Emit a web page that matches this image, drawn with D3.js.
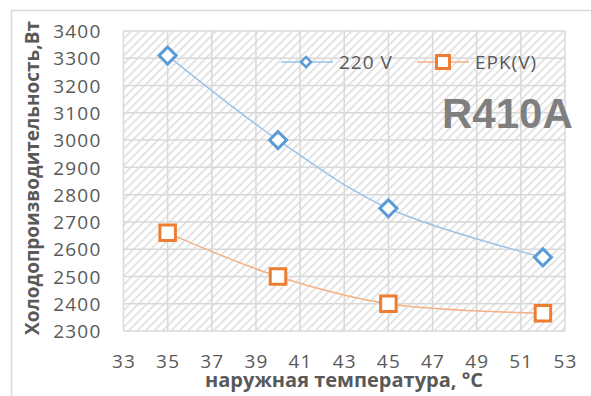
<!DOCTYPE html>
<html>
<head>
<meta charset="utf-8">
<script src="https://cdnjs.cloudflare.com/ajax/libs/d3/7.8.5/d3.min.js"></script>
<style>
  html, body { margin: 0; padding: 0; background: #fff; }
  svg { display: block; }
</style>
</head>
<body>
<svg id="chart" width="591" height="396"></svg>
<script>
// Cooling capacity vs. outdoor temperature, R410A
const temps = [35, 40, 45, 52];
const series220 = [3310, 3000, 2750, 2570];
const seriesEPK = [2660, 2500, 2400, 2365];
const seriesNames = ["220 V", "EPK(V)"];
const xTicks = [33, 35, 37, 39, 41, 43, 45, 47, 49, 51, 53];
const yTicks = [2300, 2400, 2500, 2600, 2700, 2800, 2900, 3000, 3100, 3200, 3300, 3400];

const W = 591, H = 396;
const plot = { left: 123.5, right: 565, top: 31, bottom: 331 };
const FONT = "'Open Sans', 'DejaVu Sans', sans-serif";

const svg = d3.select("#chart");

const x = d3.scaleLinear().domain([33, 53]).range([plot.left, plot.right]);
const y = d3.scaleLinear().domain([2300, 3400]).range([plot.bottom, plot.top]);

// outer chart frame
svg.append("path")
  .attr("d", `M11.5,${H} V10.5 H${W}`)
  .attr("fill", "none").attr("stroke", "#d9d9d9").attr("stroke-width", 1.5);

// diagonal hatch fill of the plot area
const defs = svg.append("defs");
const pat = defs.append("pattern")
  .attr("id", "hatch").attr("patternUnits", "userSpaceOnUse")
  .attr("width", 6).attr("height", 6)
  .attr("patternTransform", "rotate(45)");
pat.append("rect").attr("width", 6).attr("height", 6).attr("fill", "#fff");
pat.append("line").attr("x1", 0).attr("y1", 0).attr("x2", 0).attr("y2", 6)
  .attr("stroke", "#dcdcdc").attr("stroke-width", 3);

svg.append("rect")
  .attr("x", plot.left).attr("y", plot.top)
  .attr("width", plot.right - plot.left).attr("height", plot.bottom - plot.top)
  .attr("fill", "url(#hatch)");

// gridlines
const grid = svg.append("g").attr("stroke", "#d9d9d9").attr("stroke-width", 1.5);
grid.selectAll("line.v").data(xTicks).join("line")
  .attr("x1", d => x(d)).attr("x2", d => x(d))
  .attr("y1", plot.top).attr("y2", plot.bottom);
grid.selectAll("line.h").data(yTicks).join("line")
  .attr("x1", plot.left).attr("x2", plot.right)
  .attr("y1", d => y(d)).attr("y2", d => y(d));

// axes (labels only)
const yAxis = svg.append("g")
  .attr("transform", `translate(${plot.left - 22},0)`)
  .call(d3.axisLeft(y).tickValues(yTicks).tickSize(0).tickPadding(0).tickFormat(d3.format("d")));
yAxis.select(".domain").remove();
yAxis.selectAll("text").attr("fill", "#595959").attr("font-size", 19)
  .attr("letter-spacing", "1.2px")
  .attr("font-family", FONT).attr("dy", "0.35em");

const xAxis = svg.append("g")
  .attr("transform", `translate(0,${plot.bottom})`)
  .call(d3.axisBottom(x).tickValues(xTicks).tickSize(0).tickPadding(0).tickFormat(d3.format("d")));
xAxis.select(".domain").remove();
xAxis.selectAll("text").attr("fill", "#595959").attr("font-size", 19)
  .attr("letter-spacing", "1.2px")
  .attr("font-family", FONT).attr("dy", null).attr("y", 37);

// axis titles
svg.append("text")
  .attr("transform", `translate(39,178) rotate(-90)`)
  .attr("text-anchor", "middle")
  .attr("font-family", FONT).attr("font-weight", "bold").attr("font-size", 19)
  .attr("fill", "#595959")
  .text("Холодопроизводительность,Вт");

svg.append("text")
  .attr("x", 344).attr("y", 387)
  .attr("text-anchor", "middle")
  .attr("font-family", FONT).attr("font-weight", "bold").attr("font-size", 20)
  .attr("fill", "#595959")
  .text("наружная температура, °C");

// series
const line = d3.line().x(d => x(d[0])).y(d => y(d[1])).curve(d3.curveCatmullRom.alpha(0.5));
const data220 = temps.map((t, i) => [t, series220[i]]);
const dataEPK = temps.map((t, i) => [t, seriesEPK[i]]);

svg.append("path").datum(data220).attr("d", line)
  .attr("fill", "none").attr("stroke", "#9dc3e6").attr("stroke-width", 1.5);
svg.append("path").datum(dataEPK).attr("d", line)
  .attr("fill", "none").attr("stroke", "#f4b183").attr("stroke-width", 1.5);

const diamond = d3.symbol().type(d3.symbolSquare).size(145);
const square = d3.symbol().type(d3.symbolSquare).size(240);

svg.append("g").selectAll("path").data(data220).join("path")
  .attr("d", diamond)
  .attr("transform", d => `translate(${x(d[0])},${y(d[1])}) rotate(45)`)
  .attr("fill", "#fff").attr("stroke", "#5b9bd5").attr("stroke-width", 3);

svg.append("g").selectAll("path").data(dataEPK).join("path")
  .attr("d", square)
  .attr("transform", d => `translate(${x(d[0])},${y(d[1])})`)
  .attr("fill", "#fff").attr("stroke", "#ed7d31").attr("stroke-width", 3);

// legend
const lg = svg.append("g").attr("font-family", FONT).attr("font-size", 19)
  .attr("letter-spacing", "1px").attr("fill", "#595959");
const legendY = 62;
lg.append("line").attr("x1", 281).attr("x2", 333).attr("y1", legendY).attr("y2", legendY)
  .attr("stroke", "#9dc3e6").attr("stroke-width", 1.5);
lg.append("path").attr("d", d3.symbol().type(d3.symbolSquare).size(50))
  .attr("transform", `translate(306,${legendY}) rotate(45)`)
  .attr("fill", "#fff").attr("stroke", "#5b9bd5").attr("stroke-width", 2.5);
lg.append("text").attr("x", 339).attr("y", legendY).attr("dy", "0.35em").text(seriesNames[0]);

lg.append("line").attr("x1", 417).attr("x2", 469).attr("y1", legendY).attr("y2", legendY)
  .attr("stroke", "#f4b183").attr("stroke-width", 1.5);
lg.append("path").attr("d", d3.symbol().type(d3.symbolSquare).size(170))
  .attr("transform", `translate(443,${legendY})`)
  .attr("fill", "#fff").attr("stroke", "#ed7d31").attr("stroke-width", 3);
lg.append("text").attr("x", 475).attr("y", legendY).attr("dy", "0.35em").text(seriesNames[1]);

// refrigerant label
svg.append("text")
  .attr("x", 442).attr("y", 128)
  .attr("font-family", "'Liberation Sans', Arial, sans-serif")
  .attr("font-weight", "bold").attr("font-size", 42)
  .attr("fill", "#7f7f7f")
  .text("R410A");
</script>
</body>
</html>
